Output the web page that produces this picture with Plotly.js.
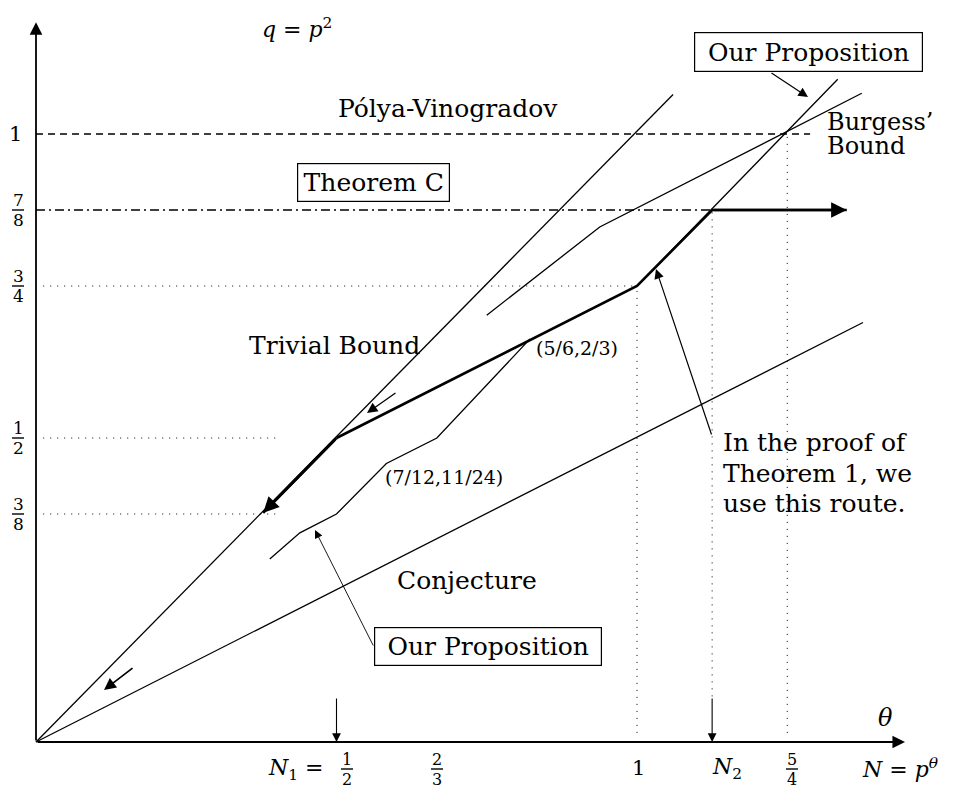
<!DOCTYPE html>
<html>
<head>
<meta charset="utf-8">
<script src="https://cdn.plot.ly/plotly-3.0.1.min.js"></script>
<style>html,body{margin:0;padding:0;background:#fff;}#chart{width:961px;height:791px;}</style>
</head>
<body>
<div id="chart"></div>
<script>
// ---- Data: curves in the (theta, q) plane, N = p^theta, q = p^2 ----
const trivialTheta = [0, 1.06];
const trivialQ = [0, 1.065];
const conjectureTheta = [0, 1.376];
const conjectureQ = [0, 0.69];
const burgessTheta = [0.75, 0.938, 1.374];
const burgessQ = [0.702, 0.847, 1.067];
const propUpperTheta = [1, 1.334];
const propUpperQ = [0.75, 1.09];
const propLowerTheta = [0.389, 0.439, 0.5, 0.583, 0.667, 0.822];
const propLowerQ = [0.301, 0.344, 0.375, 0.458, 0.5, 0.663];
const routeTheta = [0.5, 0.822, 1, 1.125, 1.349];
const routeQ = [0.5, 0.661, 0.75, 0.875, 0.875];
const routeDownTheta = [0.5, 0.378];
const routeDownQ = [0.5, 0.377];
const polyaTheta = [0, 1.288];
const polyaQ = [1, 1];
const theoremCTheta = [0, 1.125];
const theoremCQ = [0.875, 0.875];
const guideHTheta = [[0.012, 1], [0.012, 0.40], [0.012, 0.40]];
const guideHQ = [0.75, 0.5, 0.375];
const guideVTheta = [1, 1.125, 1.25];
const guideVTop = [0.75, 0.875, 1];
const guideVBottom = [0.015, 0.075, 0.015];
const xTickVals = [0.5, 2/3, 1, 1.125, 1.25];
const yTickVals = [1, 7/8, 3/4, 1/2, 3/8];
const yTickNum = ['1', '7', '3', '1', '3'];
const yTickDen = ['', '8', '4', '2', '8'];
const markTheta = [0.5, 1.125];   // N1, N2 arrows

// ---- helpers for placing text (paper coords = page pixels, margins 0) ----
const W = 961, H = 791;
const PX = x => x / W;
const PY = y => 1 - y / H;
const FONT = 'DejaVu Serif, Liberation Serif, serif';

const traces = [];
function line(x, y, width, dash) {
  traces.push({x: x, y: y, type: 'scatter', mode: 'lines', hoverinfo: 'skip',
    line: {color: '#000', width: width, dash: dash || 'solid'}, showlegend: false});
}
line(trivialTheta, trivialQ, 1.3);
line(conjectureTheta, conjectureQ, 1.3);
line(burgessTheta, burgessQ, 1.3);
line(propUpperTheta, propUpperQ, 1.3);
line(propLowerTheta, propLowerQ, 1.3);
line(routeTheta, routeQ, 2.6);
line(routeDownTheta, routeDownQ, 2.6);
line(polyaTheta, polyaQ, 1.3, '7px,5px');
line(theoremCTheta, theoremCQ, 1.3, '9px,4px,2px,4px');
guideHQ.forEach((q, i) => line(guideHTheta[i], [q, q], 1, '1px,6px'));
guideVTheta.forEach((t, i) => line([t, t], [guideVBottom[i], guideVTop[i]], 1, '1px,6px'));

const ann = [];
function txt(x, y, text, size, opts) {
  ann.push(Object.assign({xref: 'paper', yref: 'paper', x: PX(x), y: PY(y), text: text,
    showarrow: false, xanchor: 'center', yanchor: 'middle',
    font: {family: FONT, size: size, color: '#000'}}, opts || {}));
}
const shapes = [];
function frac(x, ybar, num, den, size) {
  txt(x, ybar - 10, num, size);
  txt(x, ybar + 10, den, size);
  shapes.push({type: 'line', xref: 'paper', yref: 'paper', x0: PX(x - 6), x1: PX(x + 6),
    y0: PY(ybar), y1: PY(ybar), line: {color: '#000', width: 1.4}, layer: 'above'});
}
function arrowData(xh, yh, xt, yt, width, size) {
  ann.push({xref: 'x', yref: 'y', axref: 'x', ayref: 'y', x: xh, y: yh, ax: xt, ay: yt,
    text: '', showarrow: true, arrowhead: 2, arrowsize: size, arrowwidth: width,
    arrowcolor: '#000', standoff: 0, startstandoff: 0});
}
function arrowPx(xh, yh, xt, yt, width, size) {
  ann.push({xref: 'paper', yref: 'paper', x: PX(xh), y: PY(yh), ax: xt - xh, ay: yt - yh,
    text: '', showarrow: true, arrowhead: 2, arrowsize: size, arrowwidth: width,
    arrowcolor: '#000', standoff: 0, startstandoff: 0});
}

// axes
arrowData(1.446, 0, 0, 0, 1.8, 1.4);
arrowData(0, 1.184, 0, 0, 1.8, 1.4);
// route arrowheads
const n = routeTheta.length;
arrowData(routeTheta[n - 1], routeQ[n - 1], routeTheta[n - 2], routeQ[n - 2], 2.6, 1.2);
arrowData(routeDownTheta[1], routeDownQ[1], routeDownTheta[0], routeDownQ[0], 2.6, 1.2);
// N1, N2 markers
markTheta.forEach(t => arrowData(t, 0, t, 0.074, 1.1, 1.6));
// direction hints
arrowPx(367, 413, 397, 392, 1.3, 1.6);
arrowPx(104, 690, 134, 667, 1.7, 1.4);
// leaders
arrowPx(808, 97, 770, 72, 1.2, 1.6);
arrowPx(656, 269, 712, 436, 1.2, 1.6);
arrowPx(315, 530, 374, 647, 0.9, 1.8);

// texts
txt(297, 28, '<i>q</i> = <i>p</i><sup>2</sup>', 22);
txt(448, 108, 'Pólya-Vinogradov', 25);
txt(825, 122, 'Burgess’', 24, {xanchor: 'left'});
txt(825, 146, 'Bound', 24, {xanchor: 'left'});
const box = {bgcolor: '#fff', bordercolor: '#000', borderwidth: 1.2, borderpad: 3};
txt(373, 183, 'Theorem C', 25, Object.assign({width: 145, height: 31}, box));
txt(808, 52, 'Our Proposition', 25, Object.assign({width: 221, height: 32}, box));
txt(488, 646, 'Our Proposition', 25, Object.assign({width: 220, height: 31}, box));
txt(334, 345, 'Trivial Bound', 25);
txt(577, 348, '(5/6,2/3)', 19);
txt(444, 477, '(7/12,11/24)', 19);
txt(467, 580, 'Conjecture', 25);
txt(721, 442, 'In the proof of', 25, {xanchor: 'left'});
txt(721, 473, 'Theorem 1, we', 25, {xanchor: 'left'});
txt(721, 503, 'use this route.', 25, {xanchor: 'left'});
txt(885, 718, '<i>θ</i>', 24);
txt(900, 768, '<i>N</i> = <i>p<sup>θ</sup></i>', 22);

// x tick labels
txt(295, 769, '<i>N</i><sub>1</sub> =', 22);
frac(347, 769, '1', '2', 16);
frac(437, 769, '2', '3', 16);
txt(638, 768, '1', 21);
txt(727, 768, '<i>N</i><sub>2</sub>', 22);
frac(792, 769, '5', '4', 16);

// y tick labels
yTickVals.forEach((v, i) => {
  const yb = 742 - 608 * v;
  if (yTickDen[i] === '') txt(15, yb, yTickNum[i], 21);
  else frac(18, yb, yTickNum[i], yTickDen[i], 17);
});

const thetaMin = -36 / 601, thetaMax = (W - 36) / 601;
const qMin = (742 - H) / 608, qMax = 742 / 608;
const ax = {showgrid: false, zeroline: false, showticklabels: false, showline: false, ticks: '', fixedrange: true};
const layout = {
  width: W, height: H, margin: {l: 0, r: 0, t: 0, b: 0},
  paper_bgcolor: '#fff', plot_bgcolor: '#fff',
  xaxis: Object.assign({range: [thetaMin, thetaMax]}, ax),
  yaxis: Object.assign({range: [qMin, qMax]}, ax),
  annotations: ann, shapes: shapes, showlegend: false
};
Plotly.newPlot('chart', traces, layout, {staticPlot: true});
</script>
</body>
</html>
